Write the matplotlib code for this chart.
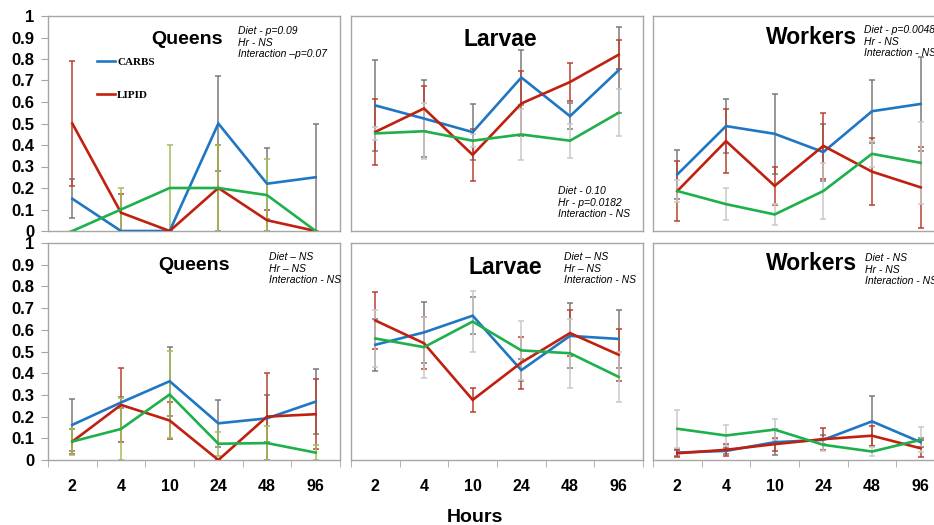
import numpy as np
import matplotlib
matplotlib.use('Agg')
import matplotlib.pyplot as plt

plt.rc('font', family='Liberation Sans')

hours = ['2', '4', '10', '24', '48', '96']
titles = ['Queens', 'Larvae', 'Workers']
series = ['CARBS', 'LIPID', 'other']

# rows of each block: CARBS, LIPID, third diet (no legend entry)
queens_top = [[0.15, 0.0, 0.0, 0.5, 0.22, 0.25],
              [0.5, 0.085, 0.0, 0.2, 0.05, 0.0],
              [0.0, 0.1, 0.2, 0.2, 0.167, 0.0]]
queens_top_err = [[0.09, 0.0, 0.0, 0.22, 0.165, 0.25],
                  [0.29, 0.085, 0.0, 0.2, 0.05, 0.0],
                  [0.0, 0.1, 0.2, 0.2, 0.167, 0.0]]

larvae_top = [[0.584, 0.523, 0.46, 0.714, 0.534, 0.748],
              [0.461, 0.57, 0.354, 0.593, 0.693, 0.82],
              [0.454, 0.464, 0.42, 0.449, 0.42, 0.55]]
larvae_top_err = [[0.21, 0.18, 0.13, 0.126, 0.06, 0.2],
                  [0.154, 0.106, 0.12, 0.15, 0.09, 0.067],
                  [0.03, 0.13, 0.03, 0.12, 0.08, 0.11]]

workers_top = [[0.263, 0.488, 0.452, 0.367, 0.557, 0.591],
               [0.186, 0.418, 0.21, 0.396, 0.276, 0.203],
               [0.186, 0.125, 0.077, 0.186, 0.359, 0.317]]
workers_top_err = [[0.115, 0.127, 0.187, 0.133, 0.147, 0.22],
                   [0.14, 0.15, 0.09, 0.154, 0.155, 0.19],
                   [0.05, 0.075, 0.05, 0.13, 0.06, 0.19]]

queens_bot = [[0.162, 0.265, 0.363, 0.169, 0.192, 0.269],
              [0.085, 0.254, 0.182, 0.0, 0.2, 0.211],
              [0.085, 0.143, 0.302, 0.075, 0.078, 0.034]]
queens_bot_err = [[0.12, 0.025, 0.16, 0.108, 0.108, 0.15],
                  [0.057, 0.17, 0.085, 0.0, 0.2, 0.16],
                  [0.06, 0.143, 0.2, 0.056, 0.078, 0.034]]

larvae_bot = [[0.531, 0.588, 0.665, 0.414, 0.572, 0.558],
              [0.643, 0.538, 0.277, 0.449, 0.585, 0.485],
              [0.56, 0.52, 0.638, 0.505, 0.492, 0.383]]
larvae_bot_err = [[0.12, 0.14, 0.085, 0.05, 0.15, 0.134],
                  [0.13, 0.12, 0.055, 0.12, 0.107, 0.12],
                  [0.13, 0.14, 0.14, 0.135, 0.16, 0.117]]

workers_bot = [[0.034, 0.042, 0.082, 0.093, 0.178, 0.082],
               [0.031, 0.047, 0.073, 0.096, 0.112, 0.054],
               [0.144, 0.113, 0.14, 0.07, 0.039, 0.093]]
workers_bot_err = [[0.015, 0.015, 0.06, 0.02, 0.115, 0.02],
                   [0.015, 0.027, 0.03, 0.05, 0.046, 0.04],
                   [0.087, 0.05, 0.05, 0.03, 0.02, 0.057]]

stats = [['Diet - p=0.09\nHr - NS\nInteraction \u2013p=0.07',
          'Diet - 0.10\nHr - p=0.0182\nInteraction - NS',
          'Diet - p=0.0048\nHr - NS\nInteraction - NS'],
         ['Diet \u2013 NS\nHr \u2013 NS\nInteraction - NS',
          'Diet \u2013 NS\nHr \u2013 NS\nInteraction - NS',
          'Diet - NS\nHr - NS\nInteraction - NS']]

means = [[queens_top, larvae_top, workers_top], [queens_bot, larvae_bot, workers_bot]]
errs = [[queens_top_err, larvae_top_err, workers_top_err],
        [queens_bot_err, larvae_bot_err, workers_bot_err]]

W, H = 934, 525
def fx(x): return x / W
def fy(y): return 1 - y / H

line_cols = ['#1f77c4', '#c0200f', '#1db04b']
err_cols = ['#7a7a7a', '#b8412f', '#c9c9c9']
err_queen = '#9fbf5a'
spine_col = '#a6a6a6'

col_left = [48, 351, 653]
row_top = [(16, 231), (243, 460)]
title_pos = [[(187, 40), (500, 39), (812, 38)], [(194, 265), (505, 267), (812, 264)]]
title_size = [14, 16.5, 16.5]
stat_pos = [[(238, 26), (558, 186), (864, 25)], [(269, 252), (564, 252), (865, 253)]]

fig = plt.figure(figsize=(W / 100, H / 100), dpi=100)
x = np.arange(len(hours)) + 0.5

for r in range(2):
    for c in range(3):
        t, b = row_top[r]
        ax = fig.add_axes([fx(col_left[c]), fy(b), 292 / W, (b - t) / H])
        for k in range(3):
            ec = err_cols[k]
            if k == 2 and c == 0:
                ec = err_queen
            ax.errorbar(x, means[r][c][k], yerr=errs[r][c][k], fmt='none',
                        ecolor=ec, elinewidth=1.1, capsize=2, capthick=1.1, zorder=2)
        for k in range(3):
            lab = series[k] if (r == 0 and c == 0 and k < 2) else '_nolegend_'
            ax.plot(x, means[r][c][k], color=line_cols[k], lw=1.9, label=lab,
                    zorder=3, solid_joinstyle='miter')
        ax.set_xlim(0, 6)
        ax.set_ylim(0, 1)
        for s in ax.spines.values():
            s.set_color(spine_col)
            s.set_linewidth(1)
        if c == 0:
            ax.set_yticks(np.arange(0, 1.01, 0.1))
            ax.set_yticklabels(['%g' % v for v in np.round(np.arange(0, 1.01, 0.1), 1)],
                               fontsize=12, fontweight='bold')
            ax.tick_params(axis='y', length=5, color=spine_col, pad=5)
        else:
            ax.set_yticks([])
        if r == 1:
            ax.set_xticks(x)
            ax.set_xticklabels(hours, fontsize=11.5, fontweight='bold')
            ax.set_xticks(np.arange(0, 7), minor=True)
            ax.tick_params(axis='x', which='major', length=0, pad=14)
            ax.tick_params(axis='x', which='minor', length=5, color=spine_col)
        else:
            ax.set_xticks([])
        tx, ty = title_pos[r][c]
        fig.text(fx(tx), fy(ty), titles[c], fontsize=title_size[c], fontweight='bold',
                 ha='center', va='center')
        sx, sy = stat_pos[r][c]
        fig.text(fx(sx), fy(sy), stats[r][c], fontsize=7.5, style='italic',
                 ha='left', va='top', linespacing=1.2)
        if r == 0 and c == 0:
            ax.legend(loc='upper left', bbox_to_anchor=(fx(97), fy(57)),
                      bbox_transform=fig.transFigure, frameon=False,
                      borderpad=0, borderaxespad=0, handlelength=1.6,
                      handletextpad=0.2, labelspacing=2.1,
                      prop={'family': 'Liberation Serif', 'weight': 'bold', 'size': 8})

fig.text(fx(475), fy(517), 'Hours', fontsize=14, fontweight='bold', ha='center', va='center')

fig.savefig('out.png', dpi=100)
